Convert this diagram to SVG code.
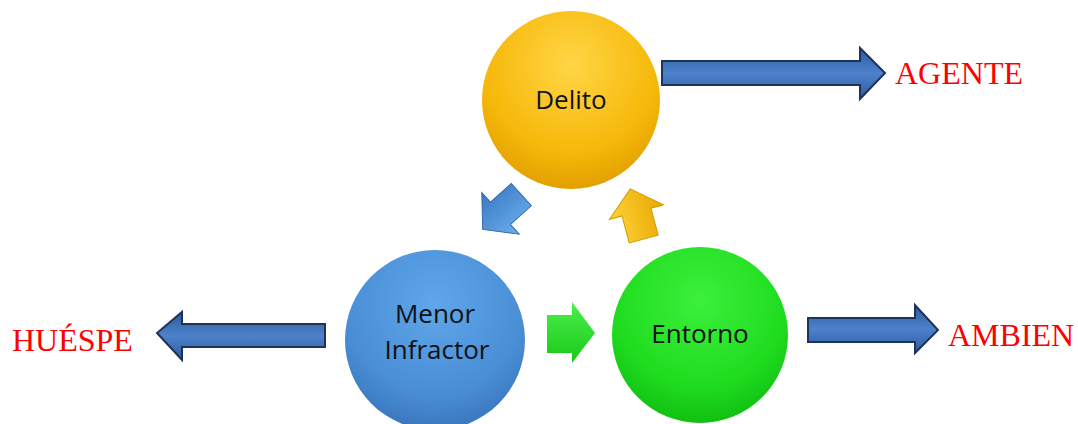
<svg xmlns="http://www.w3.org/2000/svg" width="1078" height="424" viewBox="0 0 1078 424">
<style>
.lbl{font-family:"Liberation Serif","Times New Roman",serif;font-size:32px;fill:#ff0000}
.nt{font-family:"Open Sans","Liberation Sans",sans-serif;font-size:26px;fill:#111;text-anchor:middle}
.big{fill:url(#gBlueArrow);stroke:#1e3358;stroke-width:2}
</style>
<defs>
<radialGradient id="gY" cx="0.5" cy="0.3" r="0.7">
<stop offset="0" stop-color="#ffd646"/><stop offset="0.7" stop-color="#f6b80a"/><stop offset="1" stop-color="#e2a000"/>
</radialGradient>
<radialGradient id="gB" cx="0.5" cy="0.3" r="0.7">
<stop offset="0" stop-color="#5fa6ea"/><stop offset="0.7" stop-color="#4a8fd6"/><stop offset="1" stop-color="#3a77bd"/>
</radialGradient>
<radialGradient id="gG" cx="0.5" cy="0.3" r="0.7">
<stop offset="0" stop-color="#3cf03c"/><stop offset="0.7" stop-color="#1fdc1f"/><stop offset="1" stop-color="#12c012"/>
</radialGradient>
<linearGradient id="gBlueArrow" x1="0" y1="0" x2="0" y2="1">
<stop offset="0" stop-color="#2f5a9a"/><stop offset="0.5" stop-color="#4c82cc"/><stop offset="1" stop-color="#2f5a9a"/>
</linearGradient>
<linearGradient id="gSB" x1="0" y1="0" x2="0" y2="1">
<stop offset="0" stop-color="#6aaef0"/><stop offset="1" stop-color="#3a78c0"/>
</linearGradient>
<linearGradient id="gSY" x1="0" y1="0" x2="0" y2="1">
<stop offset="0" stop-color="#ffd23a"/><stop offset="1" stop-color="#e8a800"/>
</linearGradient>
<linearGradient id="gSG" x1="0" y1="0" x2="0" y2="1">
<stop offset="0" stop-color="#4cf04c"/><stop offset="1" stop-color="#18c818"/>
</linearGradient>
</defs>
<g id="connectors">
<polygon class="big" points="662,61 860,61 860,48 885,73 860,99 860,85 662,85"/>
<polygon class="big" points="325,324 182,324 182,312 157,333 182,360 182,347 325,347"/>
<polygon class="big" points="808,318 915,318 915,305 938,330 915,353 915,342 808,342"/>
<polygon fill="url(#gSG)" points="547,315 572,315 572,302 595,333 572,363 572,353 547,353"/>
<polygon fill="url(#gSB)" stroke="#3569a8" stroke-width="1" transform="translate(502,212) rotate(138)" points="-26,-15 2,-15 2,-28 26,0 2,28 2,15 -26,15"/>
<polygon fill="url(#gSY)" stroke="#d49a00" stroke-width="1" transform="translate(637,214) rotate(-105)" points="-26,-15 2,-15 2,-28 26,0 2,28 2,15 -26,15"/>
</g>
<g id="delito">
<circle cx="571" cy="100" r="89" fill="url(#gY)"/>
<text class="nt" x="571" y="109">Delito</text>
</g>
<g id="menor">
<circle cx="435" cy="340" r="90" fill="url(#gB)"/>
<text class="nt" x="435" y="323">Menor</text>
<text class="nt" x="437" y="359">Infractor</text>
</g>
<g id="entorno">
<circle cx="700" cy="335" r="88" fill="url(#gG)"/>
<text class="nt" x="700" y="343">Entorno</text>
</g>
<g id="labels">
<text class="lbl" x="895" y="84">AGENTE</text>
<text class="lbl" x="12" y="351">HUÉSPE</text>
<text class="lbl" x="948" y="346">AMBIEN</text>
</g>
</svg>
